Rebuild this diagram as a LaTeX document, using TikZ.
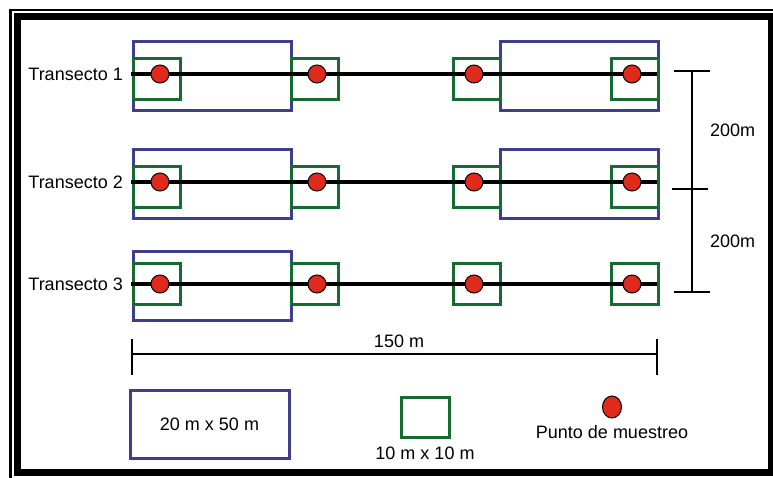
\documentclass[tikz,border=0pt]{standalone}
\usepackage{fontspec}
\setmainfont{Liberation Sans}
\usetikzlibrary{positioning, shapes.geometric}
\definecolor{plotblue}{RGB}{62,62,142}
\definecolor{plotgreen}{RGB}{22,108,48}
\definecolor{dotred}{RGB}{224,42,28}

\begin{document}
\begin{tikzpicture}[
		x=1pt, y=-1pt,
		txt/.style={font=\fontsize{18}{21}\selectfont, inner sep=0pt},
		bigplot/.style={draw=plotblue, line width=3pt},
		smallplot/.style={draw=plotgreen, line width=3pt},
		transect/.style={line width=4.5pt, black},
		sample/.style={circle, draw=black, line width=1pt, fill=dotred, minimum size=18pt, inner sep=0pt},
		dimline/.style={line width=1.2pt}
		]
		\useasboundingbox (0,0) rectangle (773,477);
		\clip (0,0) rectangle (773,477);
		
		% Frame
		\draw[line width=2.8pt] (10.5,10) rectangle (790,495);
		\draw[line width=7pt] (17.5,16.5) rectangle (771.5,472.5);
		
		% Transects
		\foreach \i/\y/\gt in {1/74/58, 2/182/166, 3/284/263} {
			\draw[bigplot] (133,\y-33) rectangle (291,\y+36);
			\ifnum\i<3
			\draw[bigplot] (500,\y-33) rectangle (658,\y+36);
			\fi
			\foreach \gx in {133, 291, 453, 611}
			\draw[smallplot] (\gx,\gt) rectangle (\gx+47,\gt+41);
			\coordinate (s\i) at (131,\y);
			\coordinate (e\i) at (657,\y);
			\draw[transect] (s\i) -- (e\i);
			\foreach \j/\px in {1/160, 2/317, 3/474, 4/632}
			\node[sample] (p\i\j) at (\px,\y) {};
			\node[txt, anchor=east] (label\i) at (123,\y) {Transecto \i};
		}
		
		% Distances between transects
		\coordinate (top) at (692,71);
		\coordinate (mid) at (692,189);
		\coordinate (bot) at (692,292);
		\draw[dimline] (top) -- (bot);
		\draw[dimline] ([xshift=-18pt]top) -- ([xshift=18pt]top);
		\draw[dimline] ([xshift=-20pt]mid) -- ([xshift=16pt]mid);
		\draw[dimline] ([xshift=-18pt]bot) -- ([xshift=18pt]bot);
		\node[txt, anchor=west] (d12) at (710,130) {200m};
		\node[txt, anchor=west] (d23) at (710,241) {200m};
		
		% Transect length
		\coordinate (left) at (132,354);
		\coordinate (right) at (657,354);
		\draw[dimline] (left) -- (right);
		\draw[dimline] ([yshift=-21pt]left) -- ([yshift=15pt]left);
		\draw[dimline] ([yshift=-21pt]right) -- ([yshift=15pt]right);
		\node[txt] (len) at (399,341) {150 m};
		
		% Legend
		\node[bigplot, txt, minimum width=159pt, minimum height=68pt] (legbig) at (209.5,424) {20 m x 50 m};
		\node[smallplot, minimum width=48pt, minimum height=40pt, inner sep=0pt] (legsmall) at (425,417) {};
		\node[txt, below=8pt of legsmall] (legsmalltxt) {10 m x 10 m};
		\node[ellipse, draw=black, line width=1pt, fill=dotred, minimum width=19pt, minimum height=22pt, inner sep=0pt] (legdot) at (612,407) {};
		\node[txt, below=7pt of legdot] (legdottxt) {Punto de muestreo};
		
	\end{tikzpicture}
\end{document}
